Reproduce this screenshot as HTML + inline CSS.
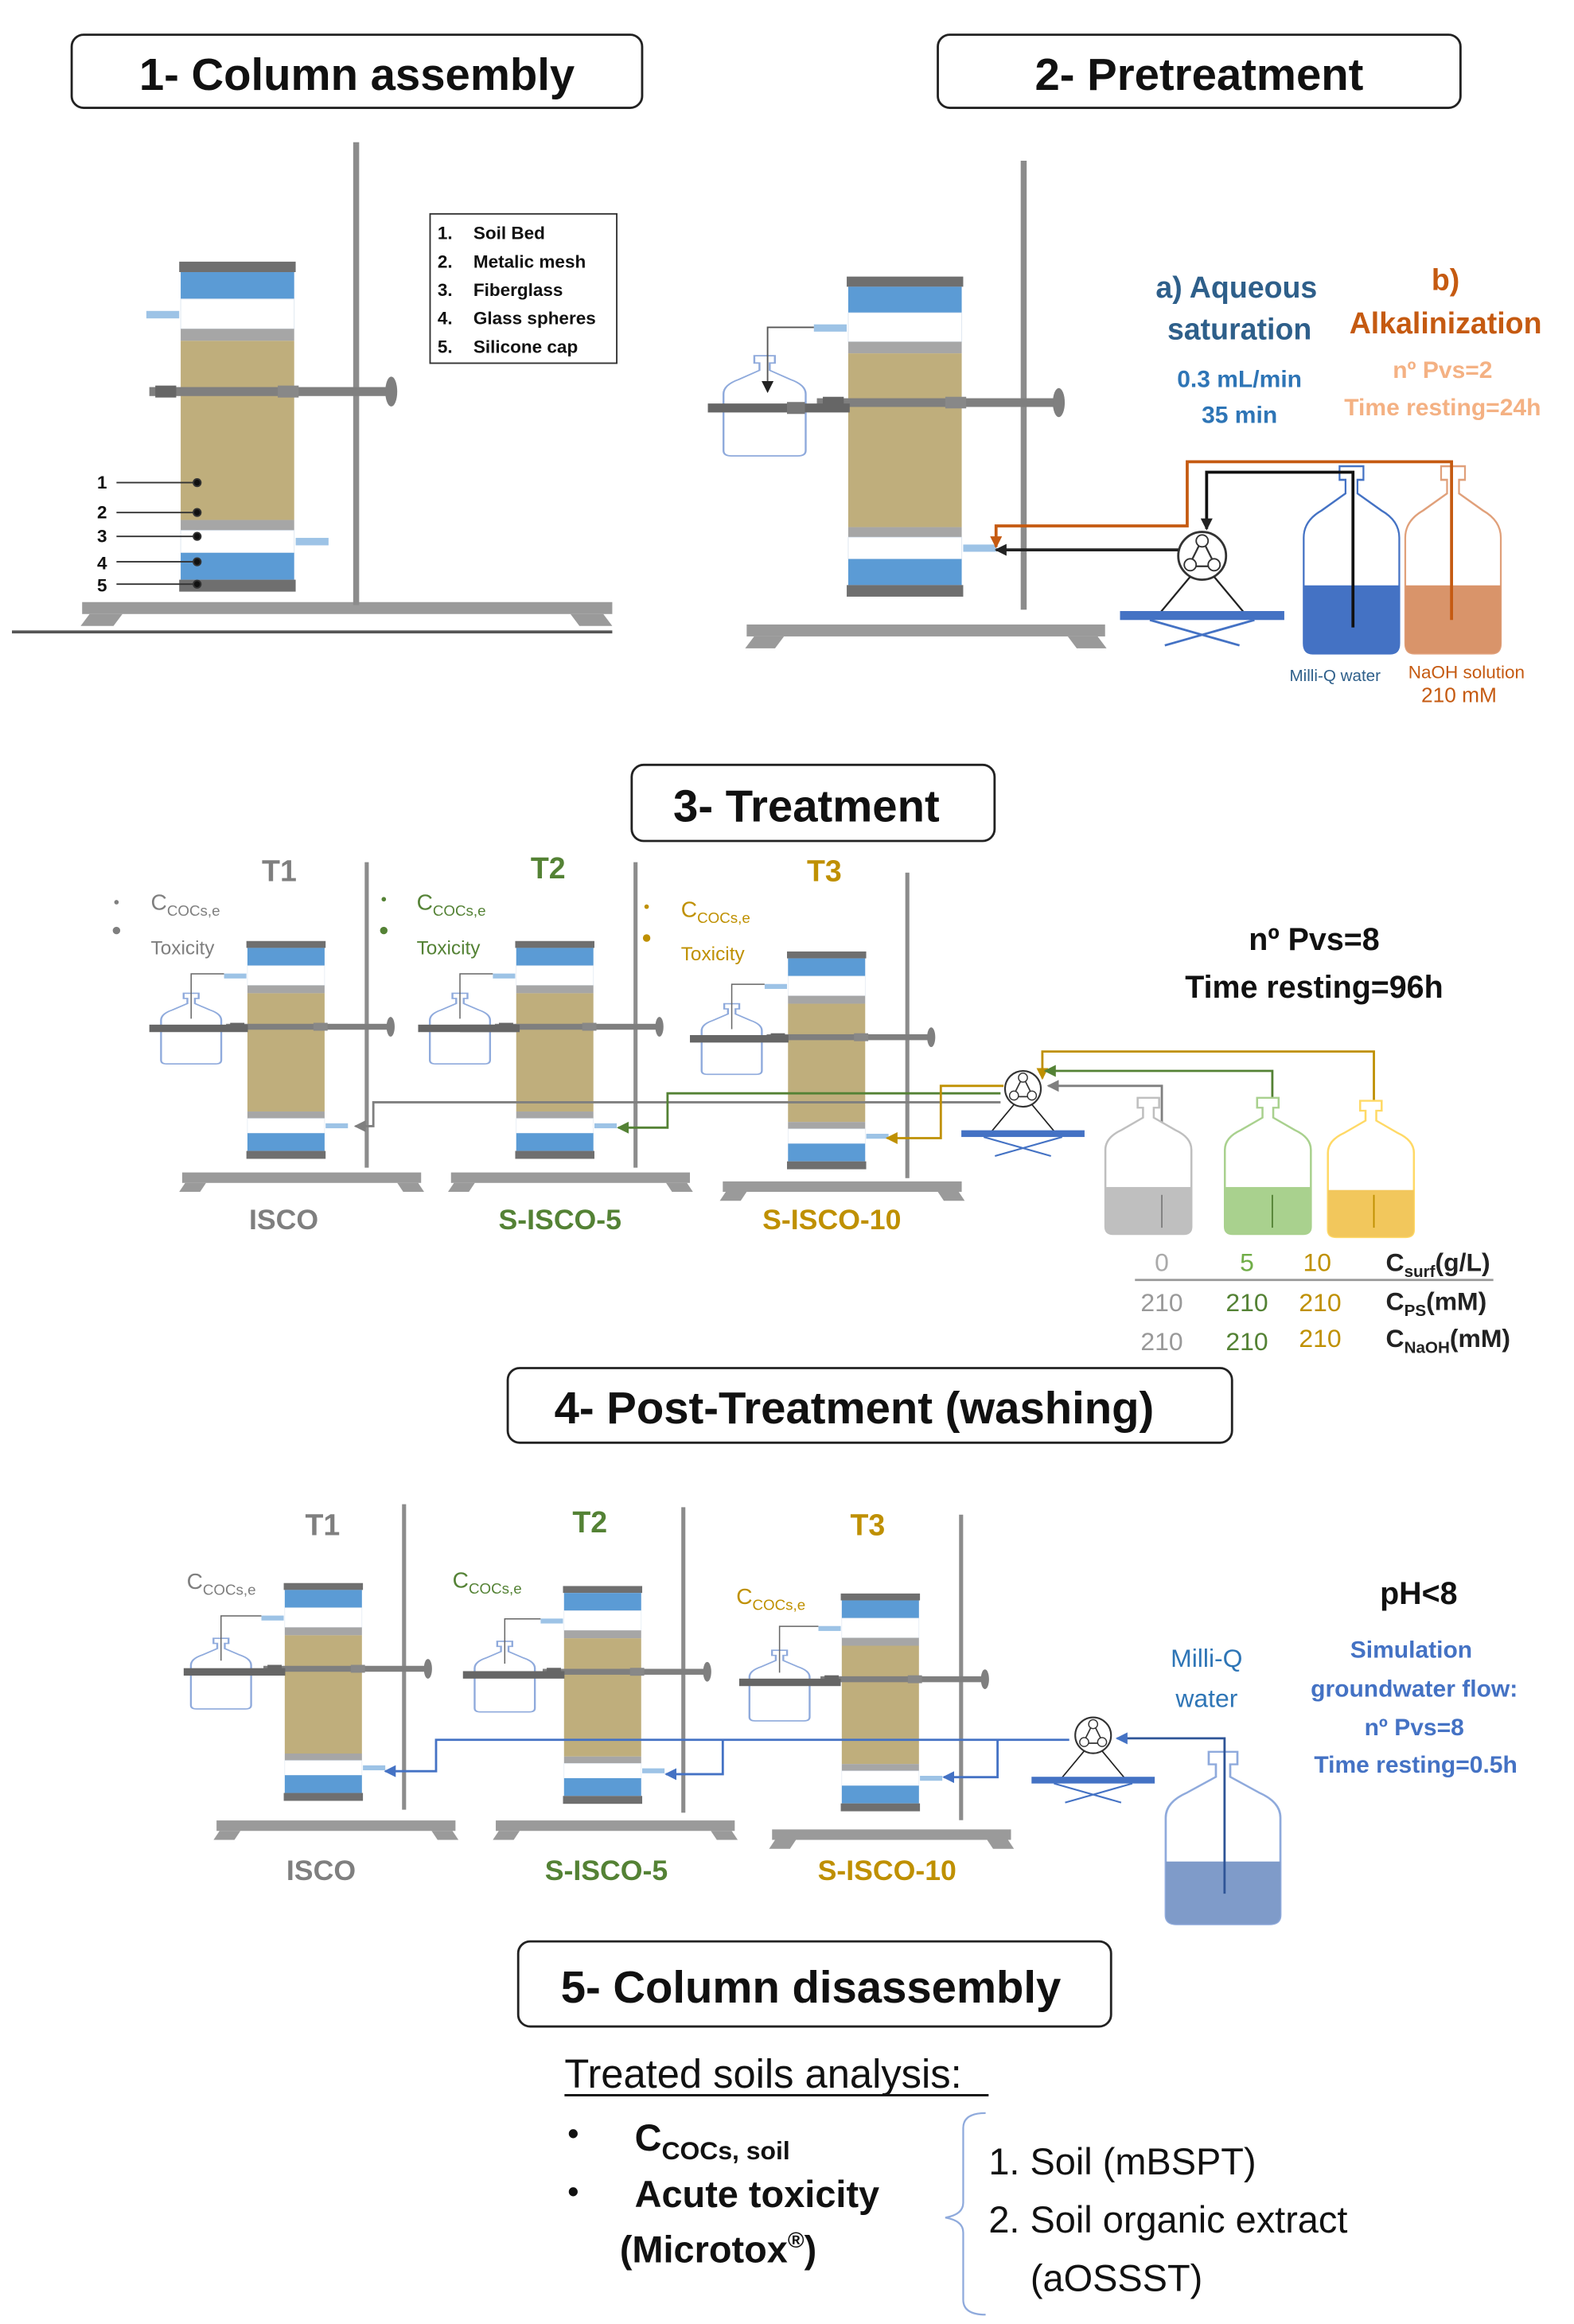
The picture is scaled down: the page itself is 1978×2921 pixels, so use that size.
<!DOCTYPE html>
<html><head><meta charset="utf-8"><style>
html,body{margin:0;padding:0;background:#fff}
svg{display:block}
text{font-family:"Liberation Sans",sans-serif}
</style></head><body>
<svg width="1978" height="2921" viewBox="0 0 1054 1556" xmlns="http://www.w3.org/2000/svg">
<defs>
<g id="col">
  <rect x="116.5" y="-80" width="4" height="310" fill="#8c8c8c"/>
  <rect x="0" y="0" width="78" height="7" fill="#6f6f6f"/>
  <rect x="1" y="7" width="76" height="18" fill="#5b9bd5"/>
  <rect x="1" y="25" width="76" height="20" fill="#fff" stroke="#dde6f0" stroke-width="0.5"/>
  <rect x="1" y="45" width="76" height="8" fill="#a6a6a6"/>
  <rect x="1" y="53" width="76" height="120" fill="#bfae7c"/>
  <rect x="1" y="173" width="76" height="7" fill="#a6a6a6"/>
  <rect x="1" y="180" width="76" height="15" fill="#fff" stroke="#dde6f0" stroke-width="0.5"/>
  <rect x="1" y="195" width="76" height="18" fill="#5b9bd5"/>
  <rect x="0" y="213" width="78" height="8" fill="#6f6f6f"/>
  <rect x="-22" y="33" width="22" height="5" fill="#9dc3e6"/>
  <rect x="78" y="185" width="22" height="5" fill="#9dc3e6"/>
  <rect x="-20" y="84" width="160" height="6" fill="#7f7f7f"/>
  <rect x="-16" y="83" width="14" height="8" fill="#666"/>
  <rect x="66" y="83" width="14" height="8" fill="#888"/>
  <ellipse cx="142" cy="87" rx="4" ry="10" fill="#7f7f7f"/>
</g>
<path id="bb" d="M-8 0 h16 v8 h-4 v8 l16 10 q12 6 12 16 v62 q0 6 -6 6 h-52 q-6 0 -6 -6 v-62 q0 -10 12 -16 l16 -10 v-8 h-4 z"/>
<clipPath id="bc"><use href="#bb"/></clipPath>
<g id="pump">
  <circle cx="0" cy="0" r="16" fill="#fff" stroke="#333" stroke-width="1.5"/>
  <path d="M0 -11 L-9 7 L9 7 Z" fill="none" stroke="#333" stroke-width="1.2"/>
  <circle cx="0" cy="-10" r="4" fill="#fff" stroke="#333"/>
  <circle cx="-8" cy="6" r="4" fill="#fff" stroke="#333"/>
  <circle cx="8" cy="6" r="4" fill="#fff" stroke="#333"/>
  <path d="M-8 14 L-28 38 M8 14 L28 38" stroke="#222" stroke-width="1.2"/>
  <rect x="-55" y="37" width="110" height="6" fill="#4472c4"/>
  <path d="M-35 43 L25 60 M35 43 L-25 60" stroke="#4472c4" stroke-width="1.5"/>
</g>
<marker id="ab" markerUnits="userSpaceOnUse" markerWidth="8" markerHeight="8" refX="7" refY="4" orient="auto"><path d="M0 0 L8 4 L0 8 z" fill="#222"/></marker>
<marker id="ao" markerUnits="userSpaceOnUse" markerWidth="8" markerHeight="8" refX="7" refY="4" orient="auto"><path d="M0 0 L8 4 L0 8 z" fill="#c55a11"/></marker>
<marker id="ag" markerUnits="userSpaceOnUse" markerWidth="8" markerHeight="8" refX="7" refY="4" orient="auto"><path d="M0 0 L8 4 L0 8 z" fill="#7f7f7f"/></marker>
<marker id="agr" markerUnits="userSpaceOnUse" markerWidth="8" markerHeight="8" refX="7" refY="4" orient="auto"><path d="M0 0 L8 4 L0 8 z" fill="#548235"/></marker>
<marker id="ay" markerUnits="userSpaceOnUse" markerWidth="8" markerHeight="8" refX="7" refY="4" orient="auto"><path d="M0 0 L8 4 L0 8 z" fill="#bf9000"/></marker>
<marker id="abl" markerUnits="userSpaceOnUse" markerWidth="8" markerHeight="8" refX="7" refY="4" orient="auto"><path d="M0 0 L8 4 L0 8 z" fill="#4472c4"/></marker>
</defs>

<!-- Headers -->
<rect x="48" y="23" width="382" height="49" rx="8" fill="#fff" stroke="#222" stroke-width="1.5"/>
<text x="239" y="60" text-anchor="middle" font-size="30" font-weight="bold" fill="#111">1- Column assembly</text>
<rect x="628" y="23" width="350" height="49" rx="8" fill="#fff" stroke="#222" stroke-width="1.5"/>
<text x="803" y="60" text-anchor="middle" font-size="30" font-weight="bold" fill="#111">2- Pretreatment</text>

<!-- Section 1 -->
<g fill="#9a9a9a"><rect x="55" y="403" width="355" height="8"/><path d="M60 411 h22 l-6 8 h-22 z M382 411 h22 l6 8 h-22 z"/></g>
<use href="#col" transform="translate(120,175)"/>
<line x1="8" y1="423" x2="410" y2="423" stroke="#555" stroke-width="2"/>
<rect x="288" y="143" width="125" height="100" fill="#fff" stroke="#333"/>
<g font-size="12" font-weight="bold" fill="#111">
<text x="293" y="160">1.</text><text x="317" y="160">Soil Bed</text>
<text x="293" y="179">2.</text><text x="317" y="179">Metalic mesh</text>
<text x="293" y="198">3.</text><text x="317" y="198">Fiberglass</text>
<text x="293" y="217">4.</text><text x="317" y="217">Glass spheres</text>
<text x="293" y="236">5.</text><text x="317" y="236">Silicone cap</text>
</g>
<g font-size="12" font-weight="bold" fill="#111" stroke="#333">
<text x="65" y="327" stroke="none">1</text><line x1="78" y1="323" x2="132" y2="323"/><circle cx="132" cy="323" r="2.5"/>
<text x="65" y="347" stroke="none">2</text><line x1="78" y1="343" x2="132" y2="343"/><circle cx="132" cy="343" r="2.5"/>
<text x="65" y="363" stroke="none">3</text><line x1="78" y1="359" x2="132" y2="359"/><circle cx="132" cy="359" r="2.5"/>
<text x="65" y="381" stroke="none">4</text><line x1="78" y1="376" x2="132" y2="376"/><circle cx="132" cy="376" r="2.5"/>
<text x="65" y="396" stroke="none">5</text><line x1="78" y1="391" x2="132" y2="391"/><circle cx="132" cy="391" r="2.5"/>
</g>

<!-- Section 2 -->
<g fill="#9a9a9a"><rect x="500" y="418" width="240" height="8"/><path d="M505 426 h20 l-6 8 h-20 z M715 426 h20 l6 8 h-20 z"/></g>
<use href="#col" transform="translate(567,185) scale(1,0.97)"/>
<use href="#bb" transform="translate(512,238) scale(0.86,0.61)" fill="#fff" stroke="#8faadc" stroke-width="1.5"/>
<path d="M545 219 H514 V262" stroke="#555" fill="none" marker-end="url(#ab)"/>
<rect x="474" y="270" width="95" height="6" fill="#666"/>
<rect x="527" y="269" width="12" height="8" fill="#777"/>
<use href="#pump" transform="translate(805,372)"/>
<g transform="translate(905,312) scale(1,1.14)">
  <use href="#bb" fill="#fff" stroke="#4472c4" stroke-width="1.2"/>
  <rect x="-40" y="70" width="80" height="50" fill="#4472c4" clip-path="url(#bc)"/>
</g>
<g transform="translate(973,312) scale(1,1.14)">
  <use href="#bb" fill="#fff" stroke="#e0a07a" stroke-width="1.2"/>
  <rect x="-40" y="70" width="80" height="50" fill="#d9946a" clip-path="url(#bc)"/>
</g>
<path d="M906 420 V316 H808 V354" stroke="#111" stroke-width="2" fill="none" marker-end="url(#ab)"/>
<path d="M789 368 H667" stroke="#222" stroke-width="2" fill="none" marker-end="url(#ab)"/>
<path d="M972 415 V309 H795 V352 H667 V366" stroke="#c55a11" stroke-width="2" fill="none" marker-end="url(#ao)"/>
<text x="828" y="199" text-anchor="middle" font-size="20" fill="#2e5f8a" font-weight="bold">a) Aqueous</text>
<text x="830" y="227" text-anchor="middle" font-size="20" fill="#2e5f8a" font-weight="bold">saturation</text>
<text x="830" y="259" text-anchor="middle" font-size="16" fill="#2e75b6" font-weight="bold">0.3 mL/min</text>
<text x="830" y="283" text-anchor="middle" font-size="16" fill="#2e75b6" font-weight="bold">35 min</text>
<text x="968" y="194" text-anchor="middle" font-size="20" fill="#c55a11" font-weight="bold">b)</text>
<text x="968" y="223" text-anchor="middle" font-size="20" fill="#c55a11" font-weight="bold">Alkalinization</text>
<text x="966" y="253" text-anchor="middle" font-size="16" fill="#f4b183" font-weight="bold">nº Pvs=2</text>
<text x="966" y="278" text-anchor="middle" font-size="16" fill="#f4b183" font-weight="bold">Time resting=24h</text>
<text x="894" y="456" text-anchor="middle" font-size="11" fill="#2e5f8a">Milli-Q water</text>
<text x="982" y="454" text-anchor="middle" font-size="12" fill="#c55a11">NaOH solution</text>
<text x="977" y="470" text-anchor="middle" font-size="14" fill="#c55a11">210 mM</text>

<!-- Section 3 -->
<rect x="423" y="512" width="243" height="51" rx="8" fill="#fff" stroke="#222" stroke-width="1.5"/>
<text x="540" y="550" text-anchor="middle" font-size="30" font-weight="bold" fill="#111">3- Treatment</text>
<g fill="#9a9a9a">
<rect x="122" y="785" width="160" height="7"/><path d="M124 792 h14 l-4 6 h-14 z M266 792 h14 l4 6 h-14 z"/>
<rect x="302" y="785" width="160" height="7"/><path d="M304 792 h14 l-4 6 h-14 z M446 792 h14 l4 6 h-14 z"/>
<rect x="484" y="791" width="160" height="7"/><path d="M486 798 h14 l-4 6 h-14 z M628 798 h14 l4 6 h-14 z"/>
</g>
<use href="#col" transform="translate(165,630) scale(0.68,0.66)"/>
<use href="#col" transform="translate(345,630) scale(0.68,0.66)"/>
<use href="#col" transform="translate(527,637) scale(0.68,0.66)"/>
<g fill="#fff" stroke="#8faadc" stroke-width="2">
<use href="#bb" transform="translate(128,665) scale(0.63,0.43)"/>
<use href="#bb" transform="translate(308,665) scale(0.63,0.43)"/>
<use href="#bb" transform="translate(490,672) scale(0.63,0.43)"/>
</g>
<g fill="#666"><rect x="100" y="686" width="66" height="5"/><rect x="308" y="686" width="40" height="5"/><rect x="280" y="686" width="66" height="5"/><rect x="462" y="693" width="66" height="5"/></g>
<g stroke="#666" fill="none" stroke-width="0.8"><path d="M150 652 H128 V682"/><path d="M330 652 H308 V682"/><path d="M512 659 H490 V689"/></g>
<text x="187" y="590" text-anchor="middle" font-size="20" font-weight="bold" fill="#7f7f7f">T1</text>
<text x="367" y="588" text-anchor="middle" font-size="20" font-weight="bold" fill="#548235">T2</text>
<text x="552" y="590" text-anchor="middle" font-size="20" font-weight="bold" fill="#bf9000">T3</text>
<g font-size="15" fill="#7f7f7f"><circle cx="78" cy="604" r="1.5"/><circle cx="78" cy="623" r="2.5"/><text x="101" y="609">C<tspan font-size="10" dy="4">COCs,e</tspan></text><text x="101" y="639" font-size="13">Toxicity</text></g>
<g font-size="15" fill="#548235"><circle cx="257" cy="602" r="1.5"/><circle cx="257" cy="623" r="2.5"/><text x="279" y="609">C<tspan font-size="10" dy="4">COCs,e</tspan></text><text x="279" y="639" font-size="13">Toxicity</text></g>
<g font-size="15" fill="#bf9000"><circle cx="433" cy="607" r="1.5"/><circle cx="433" cy="628" r="2.5"/><text x="456" y="614">C<tspan font-size="10" dy="4">COCs,e</tspan></text><text x="456" y="643" font-size="13">Toxicity</text></g>
<text x="190" y="823" text-anchor="middle" font-size="19" font-weight="bold" fill="#7f7f7f">ISCO</text>
<text x="375" y="823" text-anchor="middle" font-size="19" font-weight="bold" fill="#548235">S-ISCO-5</text>
<text x="557" y="823" text-anchor="middle" font-size="19" font-weight="bold" fill="#bf9000">S-ISCO-10</text>
<text x="880" y="636" text-anchor="middle" font-size="21" font-weight="bold" fill="#111">nº Pvs=8</text>
<text x="880" y="668" text-anchor="middle" font-size="21" font-weight="bold" fill="#111">Time resting=96h</text>
<use href="#pump" transform="translate(685,729) scale(0.75)"/>
<path d="M670 738 H250 V754 H238" stroke="#7f7f7f" stroke-width="1.5" fill="none" marker-end="url(#ag)"/>
<path d="M670 732 H447 V755 H414" stroke="#548235" stroke-width="1.5" fill="none" marker-end="url(#agr)"/>
<path d="M672 727 H630 V762 H594" stroke="#bf9000" stroke-width="1.5" fill="none" marker-end="url(#ay)"/>
<path d="M920 800 V704 H698 V722" stroke="#bf9000" stroke-width="1.5" fill="none" marker-end="url(#ay)"/>
<path d="M852 800 V717 H700" stroke="#548235" stroke-width="1.5" fill="none" marker-end="url(#agr)"/>
<path d="M778 800 V727 H702" stroke="#7f7f7f" stroke-width="1.5" fill="none" marker-end="url(#ag)"/>
<g transform="translate(769,735) scale(0.9,0.83)"><use href="#bb" fill="#fff" stroke="#bfbfbf" stroke-width="1.5"/><rect x="-40" y="72" width="80" height="50" fill="#bfbfbf" clip-path="url(#bc)"/></g>
<g transform="translate(849,735) scale(0.9,0.83)"><use href="#bb" fill="#fff" stroke="#a9d18e" stroke-width="1.5"/><rect x="-40" y="72" width="80" height="50" fill="#a9d18e" clip-path="url(#bc)"/></g>
<g transform="translate(918,737) scale(0.9,0.83)"><use href="#bb" fill="#fff" stroke="#ffd966" stroke-width="1.5"/><rect x="-40" y="72" width="80" height="50" fill="#f2c75c" clip-path="url(#bc)"/></g>
<line x1="778" y1="800" x2="778" y2="822" stroke="#7f7f7f"/>
<line x1="852" y1="800" x2="852" y2="822" stroke="#548235"/>
<line x1="920" y1="800" x2="920" y2="822" stroke="#bf9000"/>
<g font-size="17">
<text x="778" y="851" text-anchor="middle" fill="#aaa">0</text>
<text x="835" y="851" text-anchor="middle" fill="#70ad47">5</text>
<text x="882" y="851" text-anchor="middle" fill="#bf9000">10</text>
<text x="928" y="851" font-weight="bold" fill="#222">C<tspan font-size="11" dy="4">surf</tspan><tspan dy="-4">(g/L)</tspan></text>
<line x1="760" y1="857" x2="1000" y2="857" stroke="#999" stroke-width="1.5"/>
<text x="778" y="878" text-anchor="middle" fill="#999">210</text>
<text x="835" y="878" text-anchor="middle" fill="#548235">210</text>
<text x="884" y="878" text-anchor="middle" fill="#bf9000">210</text>
<text x="928" y="877" font-weight="bold" fill="#222">C<tspan font-size="11" dy="4">PS</tspan><tspan dy="-4">(mM)</tspan></text>
<text x="778" y="904" text-anchor="middle" fill="#999">210</text>
<text x="835" y="904" text-anchor="middle" fill="#548235">210</text>
<text x="884" y="902" text-anchor="middle" fill="#bf9000">210</text>
<text x="928" y="902" font-weight="bold" fill="#222">C<tspan font-size="11" dy="4">NaOH</tspan><tspan dy="-4">(mM)</tspan></text>
</g>

<!-- Section 4 -->
<rect x="340" y="916" width="485" height="50" rx="8" fill="#fff" stroke="#222" stroke-width="1.5"/>
<text x="572" y="953" text-anchor="middle" font-size="30" font-weight="bold" fill="#111">4- Post-Treatment (washing)</text>
<g fill="#9a9a9a">
<rect x="145" y="1219" width="160" height="7"/><path d="M147 1226 h14 l-4 6 h-14 z M289 1226 h14 l4 6 h-14 z"/>
<rect x="332" y="1219" width="160" height="7"/><path d="M334 1226 h14 l-4 6 h-14 z M476 1226 h14 l4 6 h-14 z"/>
<rect x="517" y="1225" width="160" height="7"/><path d="M519 1232 h14 l-4 6 h-14 z M661 1232 h14 l4 6 h-14 z"/>
</g>
<use href="#col" transform="translate(190,1060) scale(0.68,0.66)"/>
<use href="#col" transform="translate(377,1062) scale(0.68,0.66)"/>
<use href="#col" transform="translate(563,1067) scale(0.68,0.66)"/>
<g fill="#fff" stroke="#8faadc" stroke-width="2">
<use href="#bb" transform="translate(148,1097) scale(0.63,0.43)"/>
<use href="#bb" transform="translate(338,1099) scale(0.63,0.43)"/>
<use href="#bb" transform="translate(522,1105) scale(0.63,0.43)"/>
</g>
<g fill="#666"><rect x="123" y="1117" width="68" height="5"/><rect x="310" y="1119" width="68" height="5"/><rect x="495" y="1124" width="68" height="5"/></g>
<g stroke="#666" fill="none" stroke-width="0.8"><path d="M175 1082 H148 V1112"/><path d="M362 1084 H338 V1114"/><path d="M548 1089 H522 V1120"/></g>
<text x="216" y="1028" text-anchor="middle" font-size="20" font-weight="bold" fill="#7f7f7f">T1</text>
<text x="395" y="1026" text-anchor="middle" font-size="20" font-weight="bold" fill="#548235">T2</text>
<text x="581" y="1028" text-anchor="middle" font-size="20" font-weight="bold" fill="#bf9000">T3</text>
<text x="125" y="1064" font-size="15" fill="#7f7f7f">C<tspan font-size="10" dy="4">COCs,e</tspan></text>
<text x="303" y="1063" font-size="15" fill="#548235">C<tspan font-size="10" dy="4">COCs,e</tspan></text>
<text x="493" y="1074" font-size="15" fill="#bf9000">C<tspan font-size="10" dy="4">COCs,e</tspan></text>
<text x="215" y="1259" text-anchor="middle" font-size="19" font-weight="bold" fill="#7f7f7f">ISCO</text>
<text x="406" y="1259" text-anchor="middle" font-size="19" font-weight="bold" fill="#548235">S-ISCO-5</text>
<text x="594" y="1259" text-anchor="middle" font-size="19" font-weight="bold" fill="#bf9000">S-ISCO-10</text>
<use href="#pump" transform="translate(732,1162) scale(0.75)"/>
<path d="M716 1165 H292 V1186 H258" stroke="#4472c4" stroke-width="1.5" fill="none" marker-end="url(#abl)"/>
<path d="M484 1165 V1188 H446" stroke="#4472c4" stroke-width="1.5" fill="none" marker-end="url(#abl)"/>
<path d="M668 1165 V1190 H632" stroke="#4472c4" stroke-width="1.5" fill="none" marker-end="url(#abl)"/>
<g transform="translate(819,1173) scale(1.2,1.05)"><use href="#bb" fill="#fff" stroke="#8faadc" stroke-width="1.2"/><rect x="-40" y="70" width="80" height="50" fill="#7f9bc9" clip-path="url(#bc)"/></g>
<path d="M820 1268 V1164 H748" stroke="#2f5597" stroke-width="1.5" fill="none" marker-end="url(#abl)"/>
<text x="808" y="1116" text-anchor="middle" font-size="17" fill="#2e75b6">Milli-Q</text>
<text x="808" y="1143" text-anchor="middle" font-size="17" fill="#2e75b6">water</text>
<text x="950" y="1074" text-anchor="middle" font-size="21" font-weight="bold" fill="#111">pH&lt;8</text>
<g font-size="16" font-weight="bold" fill="#4472c4" text-anchor="middle">
<text x="945" y="1110">Simulation</text>
<text x="947" y="1136">groundwater flow:</text>
<text x="947" y="1162">nº Pvs=8</text>
<text x="948" y="1187">Time resting=0.5h</text>
</g>

<!-- Section 5 -->
<rect x="347" y="1300" width="397" height="57" rx="8" fill="#fff" stroke="#222" stroke-width="1.5"/>
<text x="543" y="1341" text-anchor="middle" font-size="30" font-weight="bold" fill="#111">5- Column disassembly</text>
<text x="378" y="1398" font-size="27" fill="#111">Treated soils analysis:</text>
<line x1="378" y1="1403" x2="662" y2="1403" stroke="#111" stroke-width="1.5"/>
<text x="380" y="1436" font-size="22" fill="#111">•</text>
<text x="380" y="1475" font-size="22" fill="#111">•</text>
<text x="425" y="1440" font-size="25" font-weight="bold" fill="#111">C<tspan font-size="17" dy="6">COCs, soil</tspan></text>
<text x="425" y="1478" font-size="25" font-weight="bold" fill="#111">Acute toxicity</text>
<text x="415" y="1515" font-size="25" font-weight="bold" fill="#111">(Microtox<tspan font-size="15" dy="-10">®</tspan><tspan dy="10">)</tspan></text>
<path d="M660 1415 q-15 0 -15 10 v50 q0 8 -12 10 q12 2 12 10 v45 q0 10 15 10" fill="none" stroke="#8faadc" stroke-width="1.2"/>
<g font-size="25" fill="#111">
<text x="662" y="1456">1. Soil (mBSPT)</text>
<text x="662" y="1495">2. Soil organic extract</text>
<text x="690" y="1534">(aOSSST)</text>
</g>
</svg>
</body></html>
